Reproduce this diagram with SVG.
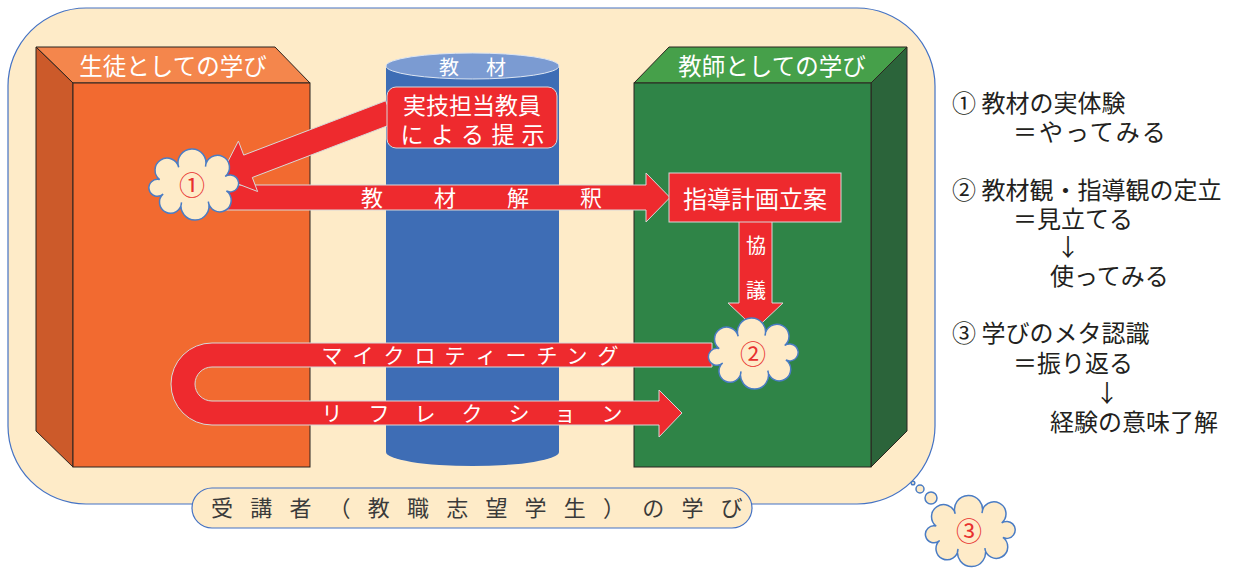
<svg xmlns="http://www.w3.org/2000/svg" width="1234" height="568" viewBox="0 0 1234 568">
<defs>
<style>
text{font-family:"Noto Sans CJK JP","Noto Sans",sans-serif;}
.w{fill:#ffffff;}
.red{fill:#EE2A2E;stroke:#D8D8D8;stroke-width:1;}
.cloud{fill:#FEEBC8;stroke:#4A7CC4;stroke-width:1.5;}
.num{fill:#E8312F;font-size:26px;text-anchor:middle;}
.side{fill:#231F20;font-size:24px;}
.edge{stroke:#2b2420;stroke-width:1;}
</style>
<path id="cl" d="M-33.8,-4.9 A12,12 0 1 1 -14.8,-17.2 A14,14 0 1 1 12,-17.9 A12,12 0 1 1 31.7,-8 A8.5,8.5 0 1 1 32.9,6.5 A11.5,11.5 0 1 1 14.8,17.2 A14,14 0 1 1 -12,17.9 A11,11 0 1 1 -30.3,9.5 A8.5,8.5 0 1 1 -33.8,-4.9 Z"/>
</defs>
<rect width="1234" height="568" fill="#ffffff"/>
<g id="background">
<rect x="8" y="8" width="927" height="496" rx="78" ry="78" fill="#FEEBC8" stroke="#4472C4" stroke-width="1.2"/>
</g>
<g id="student-box">
<polygon points="36,47 275,47 310,83 73,83" fill="#F4864C" class="edge"/>
<polygon points="36,47 73,83 73,467 36,431" fill="#CC5A2A" class="edge"/>
<rect x="73" y="83" width="237" height="384" fill="#F26A30" class="edge"/>
<text x="173" y="75" class="w" font-size="23.5" text-anchor="middle">生徒としての学び</text>
</g>
<g id="teacher-box">
<polygon points="669,47 907,47 871,83 634,83" fill="#46A04A" class="edge"/>
<polygon points="871,83 907,47 907,431 871,467" fill="#2B643A" class="edge"/>
<rect x="634" y="83" width="237" height="384" fill="#2F8447" class="edge"/>
<text x="772" y="75" class="w" font-size="23.5" text-anchor="middle">教師としての学び</text>
</g>
<g id="material-cylinder">
<path d="M386,66 L386,452 A86.5,14 0 0 0 559,452 L559,66 Z" fill="#3E6DB5"/>
<ellipse cx="472.5" cy="66" rx="86.5" ry="13" fill="#7B9BD2" stroke="#DCE5F2" stroke-width="1"/>
<text x="449" y="75" class="w" font-size="20" text-anchor="middle">教</text>
<text x="496" y="75" class="w" font-size="20" text-anchor="middle">材</text>
</g>
<g id="connectors">
<path class="red" d="M224,185 L646,185 L646,173 L670,197.5 L646,222 L646,210 L224,210 Z"/>
<text class="w" font-size="22" text-anchor="middle" y="206" x="372 445 518 591">教材解釈</text>
<path class="red" d="M394.3,123.2 L252.3,177.5 L257.6,191.5 L220,177 L238.4,141.1 L243.7,155.1 L385.7,100.8 Z"/>
<path class="red" d="M739,220 L772,220 L772,303 L783,303 L755.5,329 L728,303 L739,303 Z"/>
<text class="w" font-size="20" text-anchor="middle" x="756" y="253">協</text>
<text class="w" font-size="20" text-anchor="middle" x="756" y="298">議</text>
<path class="red" d="M712,343 L212,343 A41,41 0 0 0 212,425 L659,425 L659,437 L682,413 L659,390 L659,401 L212,401 A17,17 0 0 1 212,367 L712,367 Z"/>
<text class="w" font-size="21" text-anchor="middle" y="363" x="332 363 394 425 455 486 516 547 577 608">マイクロティーチング</text>
<text class="w" font-size="21" text-anchor="middle" y="421" x="332 379 425 472 519 565 612">リフレクション</text>
</g>
<g id="presenter-box">
<rect x="387" y="87" width="170" height="61" rx="9" ry="9" class="red"/>
<text class="w" font-size="23" text-anchor="middle" x="472" y="114">実技担当教員</text>
<text class="w" font-size="23" text-anchor="middle" y="143" x="412 442.5 472.5 503 533">による提示</text>
</g>
<g id="plan-box">
<rect x="669" y="173" width="172" height="49" class="red"/>
<text class="w" font-size="24" text-anchor="middle" x="755" y="208">指導計画立案</text>
</g>
<g id="cloud1">
<use href="#cl" class="cloud" transform="translate(193.5,184.5)"/>
<text class="num" x="192" y="195">①</text>
</g>
<g id="cloud2">
<use href="#cl" class="cloud" transform="translate(753,353.5)"/>
<text class="num" x="753" y="364">②</text>
</g>
<g id="cloud3">
<circle cx="913" cy="483" r="1.8" class="cloud"/>
<circle cx="920" cy="489" r="4" class="cloud"/>
<circle cx="931" cy="498" r="6" class="cloud"/>
<use href="#cl" class="cloud" transform="translate(970,531)"/>
<text class="num" x="969" y="541">③</text>
</g>
<g id="learner-label">
<rect x="192" y="488" width="560" height="40" rx="20" ry="20" fill="#FEEBC8" stroke="#4472C4" stroke-width="1.2"/>
<text fill="#3A3A3A" font-size="22" text-anchor="middle" y="516" x="222 261.2 300.4 339.6 378.8 418 457.2 496.4 535.6 574.8 614 653.2 692.4 731.6">受講者（教職志望学生）の学び</text>
</g>
<g id="legend">
<text class="side" x="952" y="112">① 教材の実体験</text>
<text class="side" x="1013" y="141" letter-spacing="2">＝やってみる</text>
<text class="side" x="952" y="199">② 教材観・指導観の定立</text>
<text class="side" x="1013" y="228">＝見立てる</text>
<text class="side" x="1068" y="256" font-size="17" text-anchor="middle">↓</text>
<text class="side" x="1050" y="285">使ってみる</text>
<text class="side" x="952" y="342">③ 学びのメタ認識</text>
<text class="side" x="1013" y="372">＝振り返る</text>
<text class="side" x="1107" y="402" font-size="17" text-anchor="middle">↓</text>
<text class="side" x="1050" y="431">経験の意味了解</text>
</g>
</svg>
